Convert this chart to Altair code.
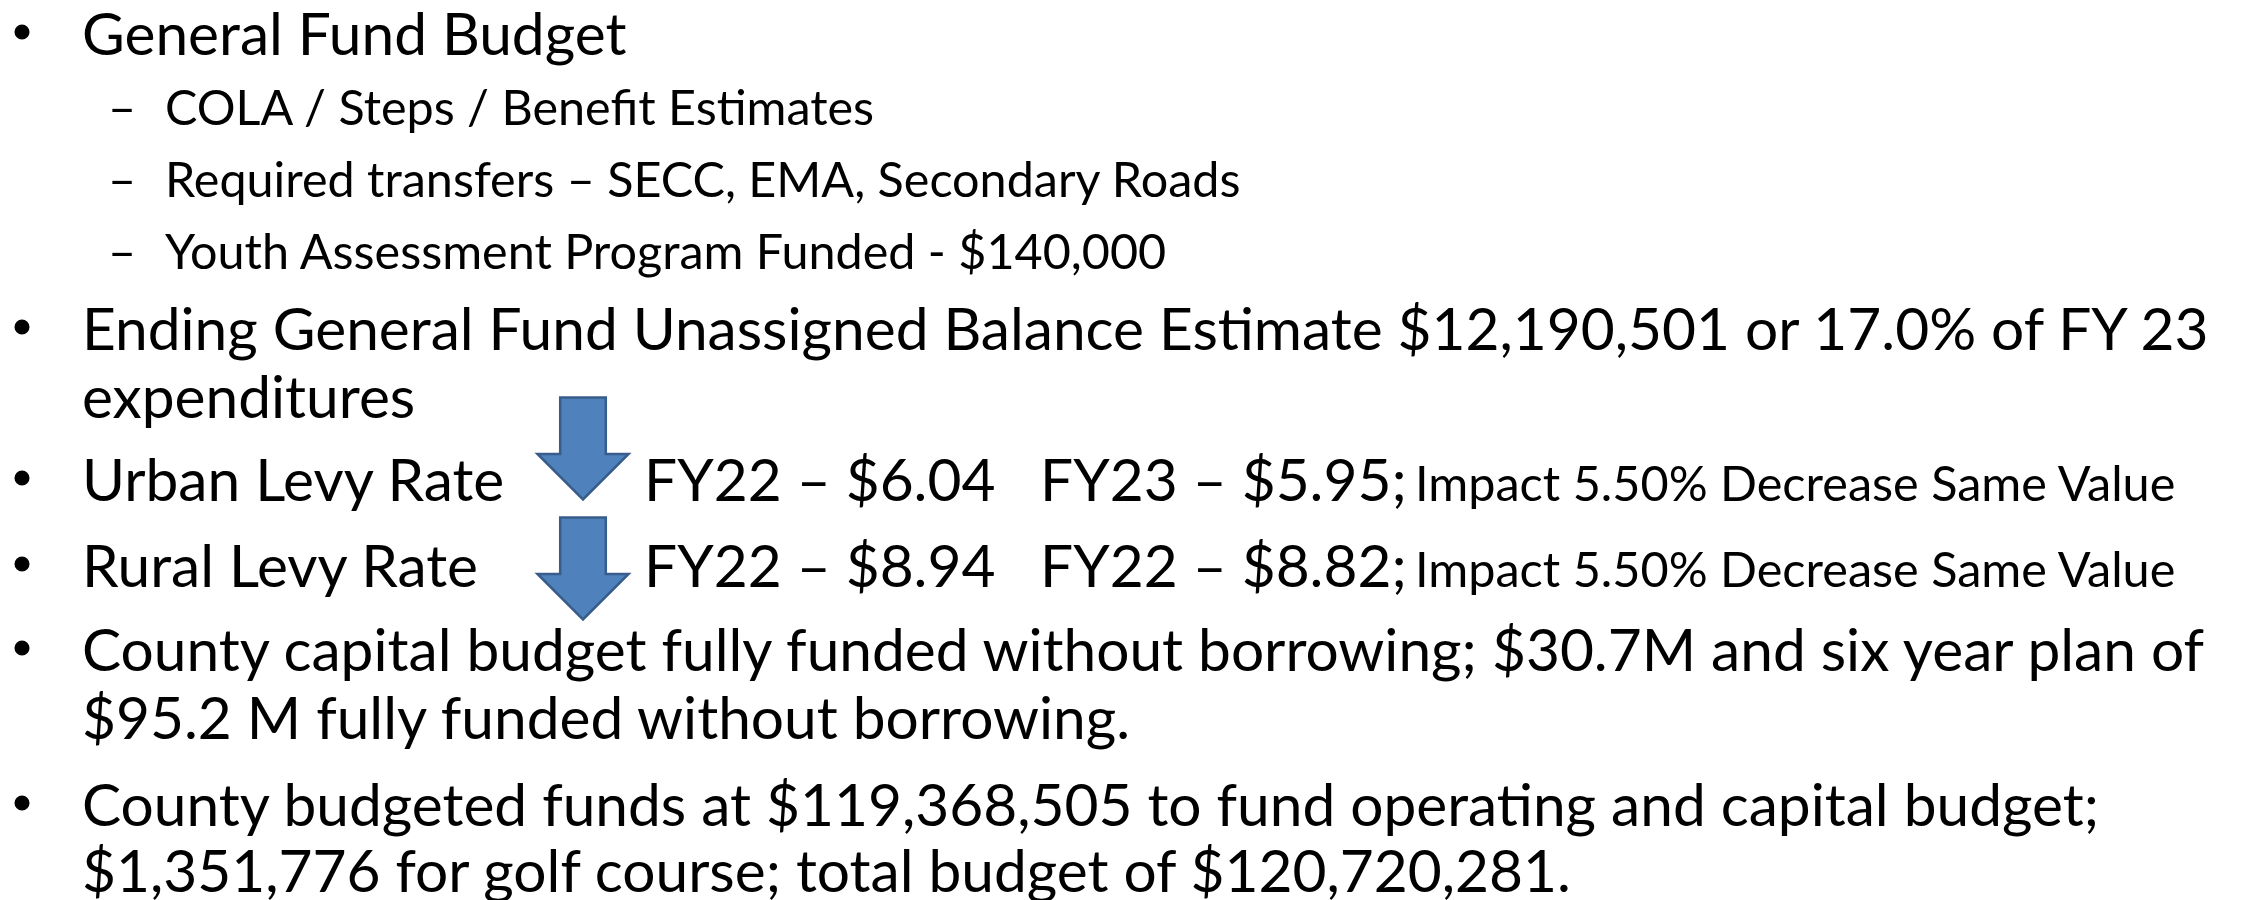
import altair as alt
import pandas as pd

# ---------------- slide content ----------------
row_texts = [
    "General Fund Budget",
    "COLA / Steps / Benefit Estimates",
    "Required transfers – SECC, EMA, Secondary Roads",
    "Youth Assessment Program Funded - $140,000",
    "Ending General Fund Unassigned Balance Estimate $12,190,501 or 17.0% of FY 23",
    "expenditures",
    "Urban Levy Rate",
    "Rural Levy Rate",
    "County capital budget fully funded without borrowing; $30.7M and six year plan of",
    "$95.2 M fully funded without borrowing.",
    "County budgeted funds at $119,368,505 to fund operating and capital budget;",
    "$1,351,776 for golf course; total budget of $120,720,281.",
]
row_level = [1, 2, 2, 2, 1, 1, 1, 1, 1, 1, 1, 1]
row_marker = ["bullet", "dash", "dash", "dash", "bullet", "", "bullet", "bullet",
              "bullet", "", "bullet", ""]
levy_prior = ["FY22 – $6.04", "FY22 – $8.94"]
levy_next = ["FY23 – $5.95;", "FY22 – $8.82;"]
levy_impact = ["Impact 5.50% Decrease Same Value", "Impact 5.50% Decrease Same Value"]

# ---------------- layout (page pixels) ----------------
W, H = 2243, 884
FONT = "Lato"
row_baseline = [52, 122, 194, 266, 347, 415, 498, 584, 668, 736, 823, 889]
level_x = {1: 82, 2: 165}
level_size = {1: 58.6, 2: 48.5}
bullet_x, dash_x = 22, 122
levy_rows = [6, 7]
levy_cols = [644, 1040, 1415]
impact_size = 48.6
arrow_x = 583
arrow_cy = [445.5, 565.5]
arrow_path = ("M-0.447,-1 L0.447,-1 L0.447,0.107 L0.893,0.107 L0,1 "
              "L-0.893,0.107 L-0.447,0.107 Z")

# ---------------- tables ----------------
text_rows = []
for i, t in enumerate(row_texts):
    lv = row_level[i]
    text_rows.append({"text": t, "x": level_x[lv], "y": row_baseline[i],
                      "fs": level_size[lv]})
for k, r in enumerate(levy_rows):
    text_rows.append({"text": levy_prior[k], "x": levy_cols[0],
                      "y": row_baseline[r], "fs": level_size[1]})
    text_rows.append({"text": levy_next[k], "x": levy_cols[1],
                      "y": row_baseline[r], "fs": level_size[1]})
    text_rows.append({"text": levy_impact[k], "x": levy_cols[2],
                      "y": row_baseline[r], "fs": impact_size})
text_df = pd.DataFrame(text_rows)

bullet_df = pd.DataFrame([{"x": bullet_x, "y": row_baseline[i] - 23}
                          for i, m in enumerate(row_marker) if m == "bullet"])
dash_df = pd.DataFrame([{"text": "–", "x": dash_x, "y": row_baseline[i],
                         "fs": level_size[2]}
                        for i, m in enumerate(row_marker) if m == "dash"])
arrow_df = pd.DataFrame({"x": [arrow_x, arrow_x], "y": arrow_cy})

xs = alt.Scale(domain=[8, 8 + W], nice=False, zero=False)
ys = alt.Scale(domain=[8, 8 + H], nice=False, zero=False, reverse=True)
X = alt.X("x:Q", scale=xs, axis=None)
Y = alt.Y("y:Q", scale=ys, axis=None)

texts = alt.Chart(text_df).mark_text(
    align="left", baseline="alphabetic", font=FONT, color="black"
).encode(x=X, y=Y, text="text:N", size=alt.Size("fs:Q", scale=None, legend=None))

dashes = alt.Chart(dash_df).mark_text(
    align="center", baseline="alphabetic", font=FONT, color="black"
).encode(x=X, y=Y, text="text:N", size=alt.Size("fs:Q", scale=None, legend=None))

bullets = alt.Chart(bullet_df).mark_point(
    shape="circle", filled=True, color="black", size=227, opacity=1
).encode(x=X, y=Y)

arrows = alt.Chart(arrow_df).mark_point(
    shape=arrow_path, filled=True, fill="#4F81BD", stroke="#385D8A",
    strokeWidth=2.5, size=102 * 102, opacity=1, fillOpacity=1, strokeOpacity=1
).encode(x=X, y=Y)

chart = alt.layer(arrows, bullets, dashes, texts).properties(
    width=W, height=H, padding=0, background="white"
).configure_view(stroke=None)

chart.save("out.html", embed_options={"renderer": "svg", "actions": False})
